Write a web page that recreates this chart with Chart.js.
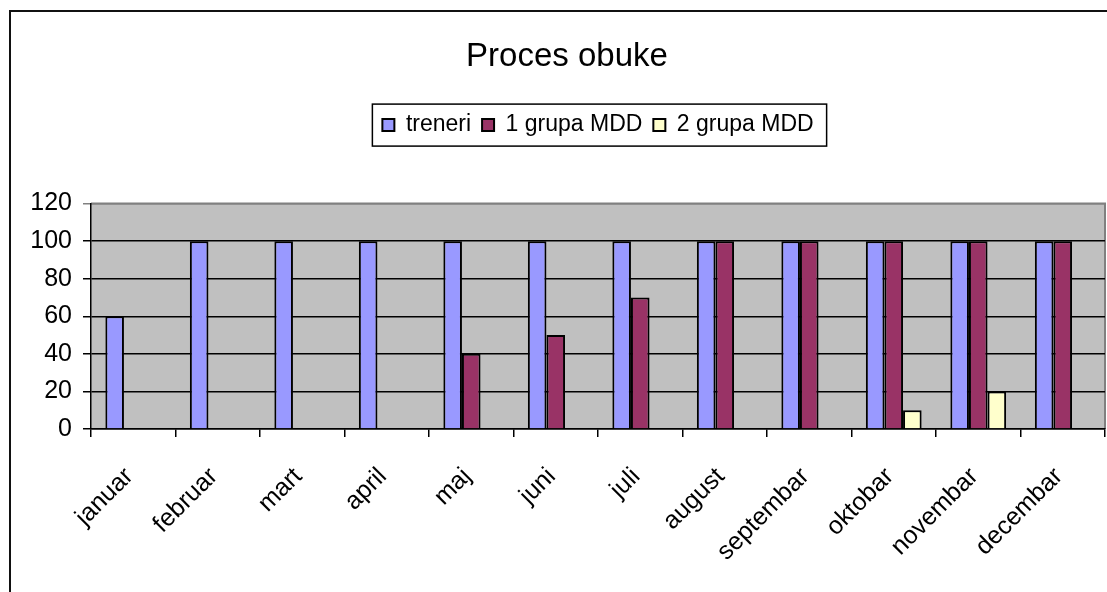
<!DOCTYPE html>
<html>
<head>
<meta charset="utf-8">
<script src="https://cdn.jsdelivr.net/npm/chart.js@4/dist/chart.umd.min.js"></script>
<style>
  html, body { margin: 0; padding: 0; background: #fff; overflow: hidden; }
  #frame {
    position: absolute; left: 9px; top: 10px; width: 1200px; height: 700px;
    border-left: 2px solid #111; border-top: 2px solid #111;
  }
  #wrap { position: absolute; left: 11px; top: 12px; width: 1112px; height: 580px; }
</style>
</head>
<body>
<div id="frame"></div>
<div id="wrap"><canvas id="chart"></canvas></div>
<script>
// chart data
const months = ["januar", "februar", "mart", "april", "maj", "juni", "juli",
  "august", "septembar", "oktobar", "novembar", "decembar"];
const treneri = [60, 100, 100, 100, 100, 100, 100, 100, 100, 100, 100, 100];
const grupa1 = [0, 0, 0, 0, 40, 50, 70, 100, 100, 100, 100, 100];
const grupa2 = [0, 0, 0, 0, 0, 0, 0, 0, 0, 10, 20, 0];
const yTicks = [0, 20, 40, 60, 80, 100, 120];

const FONT = "'Liberation Sans', Arial, sans-serif";

// gray plot background + gray top/right frame
const plotArea = {
  id: "plotArea",
  beforeInit(chart) {
    // extra space under the legend
    const legend = chart.legend;
    if (legend) {
      const fit = legend.fit;
      legend.fit = function () {
        fit.call(this);
        this.height += 57;
      };
    }
  },
  beforeDraw(chart) {
    const { ctx, chartArea: a } = chart;
    ctx.save();
    ctx.fillStyle = "#C0C0C0";
    ctx.fillRect(a.left, a.top, a.right - a.left, a.bottom - a.top);
    ctx.strokeStyle = "#808080";
    ctx.lineWidth = 2;
    ctx.beginPath();
    ctx.moveTo(a.left, a.top);
    ctx.lineTo(a.right, a.top);
    ctx.lineTo(a.right, a.bottom);
    ctx.stroke();
    ctx.restore();
  },
  afterDraw(chart) {
    // box around the legend
    const boxes = chart.legend.legendHitBoxes;
    if (!boxes || !boxes.length) return;
    const left = Math.min(...boxes.map((b) => b.left)) - 10;
    const right = Math.max(...boxes.map((b) => b.left + b.width)) + 13;
    const mid = boxes[0].top + boxes[0].height / 2;
    const ctx = chart.ctx;
    ctx.save();
    ctx.strokeStyle = "#000";
    ctx.lineWidth = 1.5;
    ctx.strokeRect(left, mid - 21, right - left, 42);
    ctx.restore();
  },
};

const ctx = document.getElementById("chart");
new Chart(ctx, {
  type: "bar",
  data: {
    labels: months,
    datasets: [
      {
        label: "treneri",
        data: treneri,
        backgroundColor: "#9999FF",
        borderColor: "#000",
        borderWidth: 2,
      },
      {
        label: "1 grupa MDD",
        data: grupa1,
        backgroundColor: "#993366",
        borderColor: "#000",
        borderWidth: 2,
      },
      {
        label: "2 grupa MDD",
        data: grupa2,
        backgroundColor: "#FFFFCC",
        borderColor: "#000",
        borderWidth: 2,
      },
    ],
  },
  options: {
    responsive: true,
    maintainAspectRatio: false,
    animation: false,
    categoryPercentage: 0.66,
    barPercentage: 1,
    layout: { padding: 0 },
    plugins: {
      title: {
        display: true,
        text: "Proces obuke",
        color: "#000",
        font: { family: FONT, size: 33, weight: "normal" },
        padding: { top: 25, bottom: 26 },
      },
      legend: {
        position: "top",
        fullSize: false,
        labels: {
          color: "#000",
          font: { family: FONT, size: 23 },
          boxWidth: 12,
          boxHeight: 12,
          padding: 11,
        },
      },
      tooltip: { enabled: false },
    },
    scales: {
      x: {
        afterFit: (scale) => {
          scale.height = 163;
        },
        grid: {
          drawOnChartArea: false,
          drawTicks: true,
          tickLength: 8,
          color: "#000",
          lineWidth: 1.5,
        },
        border: { color: "#000", width: 1.5 },
        ticks: {
          color: "#000",
          font: { family: FONT, size: 25 },
          minRotation: 45,
          maxRotation: 45,
          padding: 25,
          labelOffset: -4,
          autoSkip: false,
        },
      },
      y: {
        min: 0,
        max: 120,
        afterFit: (scale) => {
          scale.width = 80;
        },
        afterBuildTicks: (scale) => {
          scale.ticks = yTicks.map((v) => ({ value: v }));
        },
        grid: {
          color: (c) => (c.tick && c.tick.value === 120 ? "#808080" : "#000"),
          lineWidth: 1.5,
          tickLength: 8,
        },
        border: { color: "#000", width: 1.5 },
        ticks: {
          color: "#000",
          font: { family: FONT, size: 25 },
          padding: 11,
        },
      },
      // empty strip on the right, keeps the title centred on the whole frame
      spacer: {
        type: "linear",
        position: "right",
        afterFit: (scale) => {
          scale.width = 18;
        },
        grid: { display: false },
        border: { display: false },
        ticks: { display: false },
      },
    },
  },
  plugins: [plotArea],
});
</script>
</body>
</html>
